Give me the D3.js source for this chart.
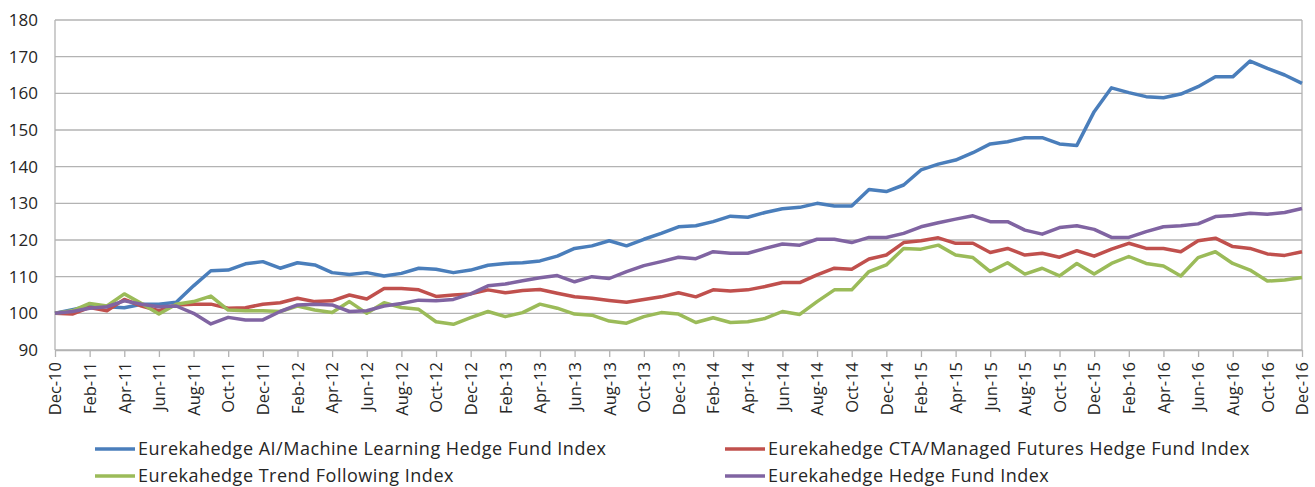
<!DOCTYPE html>
<html>
<head>
<meta charset="utf-8">
<script src="https://cdn.jsdelivr.net/npm/d3@7"></script>
<style>
  body { margin: 0; background: #fff; }
  #chart text { font-family: "Open Sans", "Noto Sans", sans-serif; fill: #262626; }
</style>
</head>
<body>
<div id="chart"></div>
<script>
// monthly index levels, Dec-10 .. Dec-16 (base 100)
const aiIndex = [100, 101, 102, 101.8, 101.5, 102.5, 102.5, 103, 107.5, 111.6, 111.8, 113.5,
  114.1, 112.3, 113.8, 113.2, 111.1, 110.6, 111.1, 110.2, 110.9, 112.3, 112.0, 111.1,
  111.8, 113.1, 113.6, 113.8, 114.3, 115.6, 117.7, 118.4, 119.8, 118.4, 120.2, 121.8,
  123.6, 123.9, 125, 126.5, 126.2, 127.5, 128.5, 128.9, 130, 129.3, 129.3, 133.8,
  133.2, 135, 139.1, 140.7, 141.8, 143.8, 146.2, 146.8, 147.9, 147.9, 146.2, 145.8,
  155, 161.5, 160.2, 159.1, 158.8, 159.8, 161.8, 164.5, 164.5, 168.8, 166.8, 165, 162.7];
const ctaIndex = [100, 99.8, 101.6, 100.7, 103.8, 102, 100.7, 102.3, 102.5, 102.5, 101.4, 101.5,
  102.5, 102.9, 104.1, 103.2, 103.4, 105, 103.9, 106.8, 106.8, 106.4, 104.6, 105,
  105.3, 106.4, 105.6, 106.2, 106.5, 105.5, 104.5, 104.1, 103.5, 103, 103.8, 104.5,
  105.6, 104.5, 106.4, 106.1, 106.4, 107.3, 108.4, 108.4, 110.5, 112.3, 112, 114.8,
  115.9, 119.3, 119.8, 120.6, 119.1, 119.1, 116.6, 117.7, 115.9, 116.4, 115.3, 117.1,
  115.6, 117.5, 119.1, 117.7, 117.7, 116.8, 119.8, 120.5, 118.2, 117.7, 116.2, 115.8, 116.8];
const trendIndex = [100, 100.7, 102.7, 102, 105.3, 102.7, 99.8, 102.5, 103.2, 104.7, 100.9, 100.7,
  100.7, 100.5, 102, 100.9, 100.2, 103.2, 100, 102.9, 101.6, 101.1, 97.7, 97,
  98.8, 100.5, 99.1, 100.2, 102.5, 101.4, 99.8, 99.5, 97.9, 97.3, 99.1, 100.2,
  99.8, 97.5, 98.8, 97.5, 97.7, 98.6, 100.5, 99.7, 103.2, 106.4, 106.4, 111.4,
  113.2, 117.7, 117.5, 118.6, 115.9, 115.2, 111.4, 113.8, 110.7, 112.3, 110.2, 113.6,
  110.7, 113.6, 115.5, 113.6, 112.9, 110.2, 115.2, 116.8, 113.6, 111.8, 108.8, 109.1, 109.8];
const hfIndex = [100, 100.5, 101.4, 101.8, 103.4, 102.5, 101.8, 102, 100, 97.1, 98.9, 98.2,
  98.2, 100.5, 102.3, 102.5, 102.3, 100.5, 100.7, 102, 102.7, 103.6, 103.4, 103.8,
  105.3, 107.5, 108, 108.9, 109.7, 110.3, 108.6, 110, 109.5, 111.4, 113, 114.1,
  115.3, 114.9, 116.8, 116.4, 116.4, 117.7, 118.9, 118.6, 120.2, 120.2, 119.3, 120.7,
  120.7, 121.8, 123.6, 124.7, 125.7, 126.6, 125, 125, 122.7, 121.6, 123.4, 123.9,
  122.9, 120.7, 120.7, 122.3, 123.6, 123.9, 124.4, 126.4, 126.7, 127.3, 127, 127.5, 128.6];

const seriesNames = [
  'Eurekahedge AI/Machine Learning Hedge Fund Index',
  'Eurekahedge CTA/Managed Futures Hedge Fund Index',
  'Eurekahedge Trend Following Index',
  'Eurekahedge Hedge Fund Index'
];
const seriesColors = ['#4a7ebb', '#c0504d', '#9bbb59', '#8064a2'];
const seriesValues = [aiIndex, ctaIndex, trendIndex, hfIndex];
const yTicks = [90, 100, 110, 120, 130, 140, 150, 160, 170, 180];

const months = d3.timeMonth.range(new Date(2010, 11, 1), new Date(2017, 0, 1));
const monthLabel = d3.timeFormat('%b-%y');

const width = 1315;
const height = 487;
const margin = { top: 20, right: 13, bottom: 137, left: 55 };
const innerWidth = width - margin.left - margin.right;
const innerHeight = height - margin.top - margin.bottom;

const svg = d3.select('#chart').append('svg')
  .attr('width', width)
  .attr('height', height);

const g = svg.append('g')
  .attr('transform', `translate(${margin.left},${margin.top})`);

const xScale = d3.scaleLinear()
  .domain([0, months.length - 1])
  .range([0, innerWidth]);

const yScale = d3.scaleLinear()
  .domain([90, 180])
  .range([innerHeight, 0]);

// horizontal grid
g.selectAll('.grid').data(yTicks)
  .enter().append('line')
    .attr('class', 'grid')
    .attr('x1', 0).attr('x2', innerWidth)
    .attr('y1', d => yScale(d)).attr('y2', d => yScale(d))
    .attr('stroke', '#b3b3b3')
    .attr('stroke-width', 1.3);

// frame sides
g.append('line').attr('x1', 0).attr('x2', 0).attr('y1', 0).attr('y2', innerHeight)
  .attr('stroke', '#b3b3b3').attr('stroke-width', 1.3);
g.append('line').attr('x1', innerWidth).attr('x2', innerWidth).attr('y1', 0).attr('y2', innerHeight)
  .attr('stroke', '#b3b3b3').attr('stroke-width', 1.3);

const yAxis = d3.axisLeft(yScale)
  .tickValues(yTicks)
  .tickSize(0)
  .tickPadding(17);
const yAxisG = g.append('g').call(yAxis);
yAxisG.select('.domain').remove();
yAxisG.selectAll('text').style('font-size', '17px');

const xAxis = d3.axisBottom(xScale)
  .tickValues(d3.range(0, months.length, 2))
  .tickFormat(i => monthLabel(months[i]))
  .tickSize(7)
  .tickSizeOuter(0);
const xAxisG = g.append('g')
  .attr('transform', `translate(0,${innerHeight})`)
  .call(xAxis);
xAxisG.select('.domain').attr('stroke', '#b3b3b3').attr('stroke-width', 1.3);
xAxisG.selectAll('.tick line').attr('stroke', '#b3b3b3').attr('stroke-width', 1.3);
xAxisG.selectAll('text')
  .style('font-size', '16.5px')
  .attr('text-anchor', 'end')
  .attr('transform', 'rotate(-90)')
  .attr('x', -12)
  .attr('y', 0)
  .attr('dy', '0.35em');

const line = d3.line()
  .x((d, i) => xScale(i))
  .y(d => yScale(d));

g.selectAll('.series').data(seriesValues)
  .enter().append('path')
    .attr('class', 'series')
    .attr('d', line)
    .attr('fill', 'none')
    .attr('stroke', (d, i) => seriesColors[i])
    .attr('stroke-width', 3.5)
    .attr('stroke-linejoin', 'round');

// legend, two columns by two rows
const legendPos = [[95, 449], [725, 449], [95, 476], [725, 476]];
const legend = svg.selectAll('.legend').data(seriesNames)
  .enter().append('g')
    .attr('class', 'legend')
    .attr('transform', (d, i) => `translate(${legendPos[i][0]},${legendPos[i][1]})`);
legend.append('line')
  .attr('x1', 0).attr('x2', 40)
  .attr('stroke', (d, i) => seriesColors[i])
  .attr('stroke-width', 3.5);
legend.append('text')
  .attr('x', 43)
  .attr('dy', '0.35em')
  .style('font-size', '18px')
  .style('letter-spacing', '0.5px')
  .text(d => d);
</script>
</body>
</html>
